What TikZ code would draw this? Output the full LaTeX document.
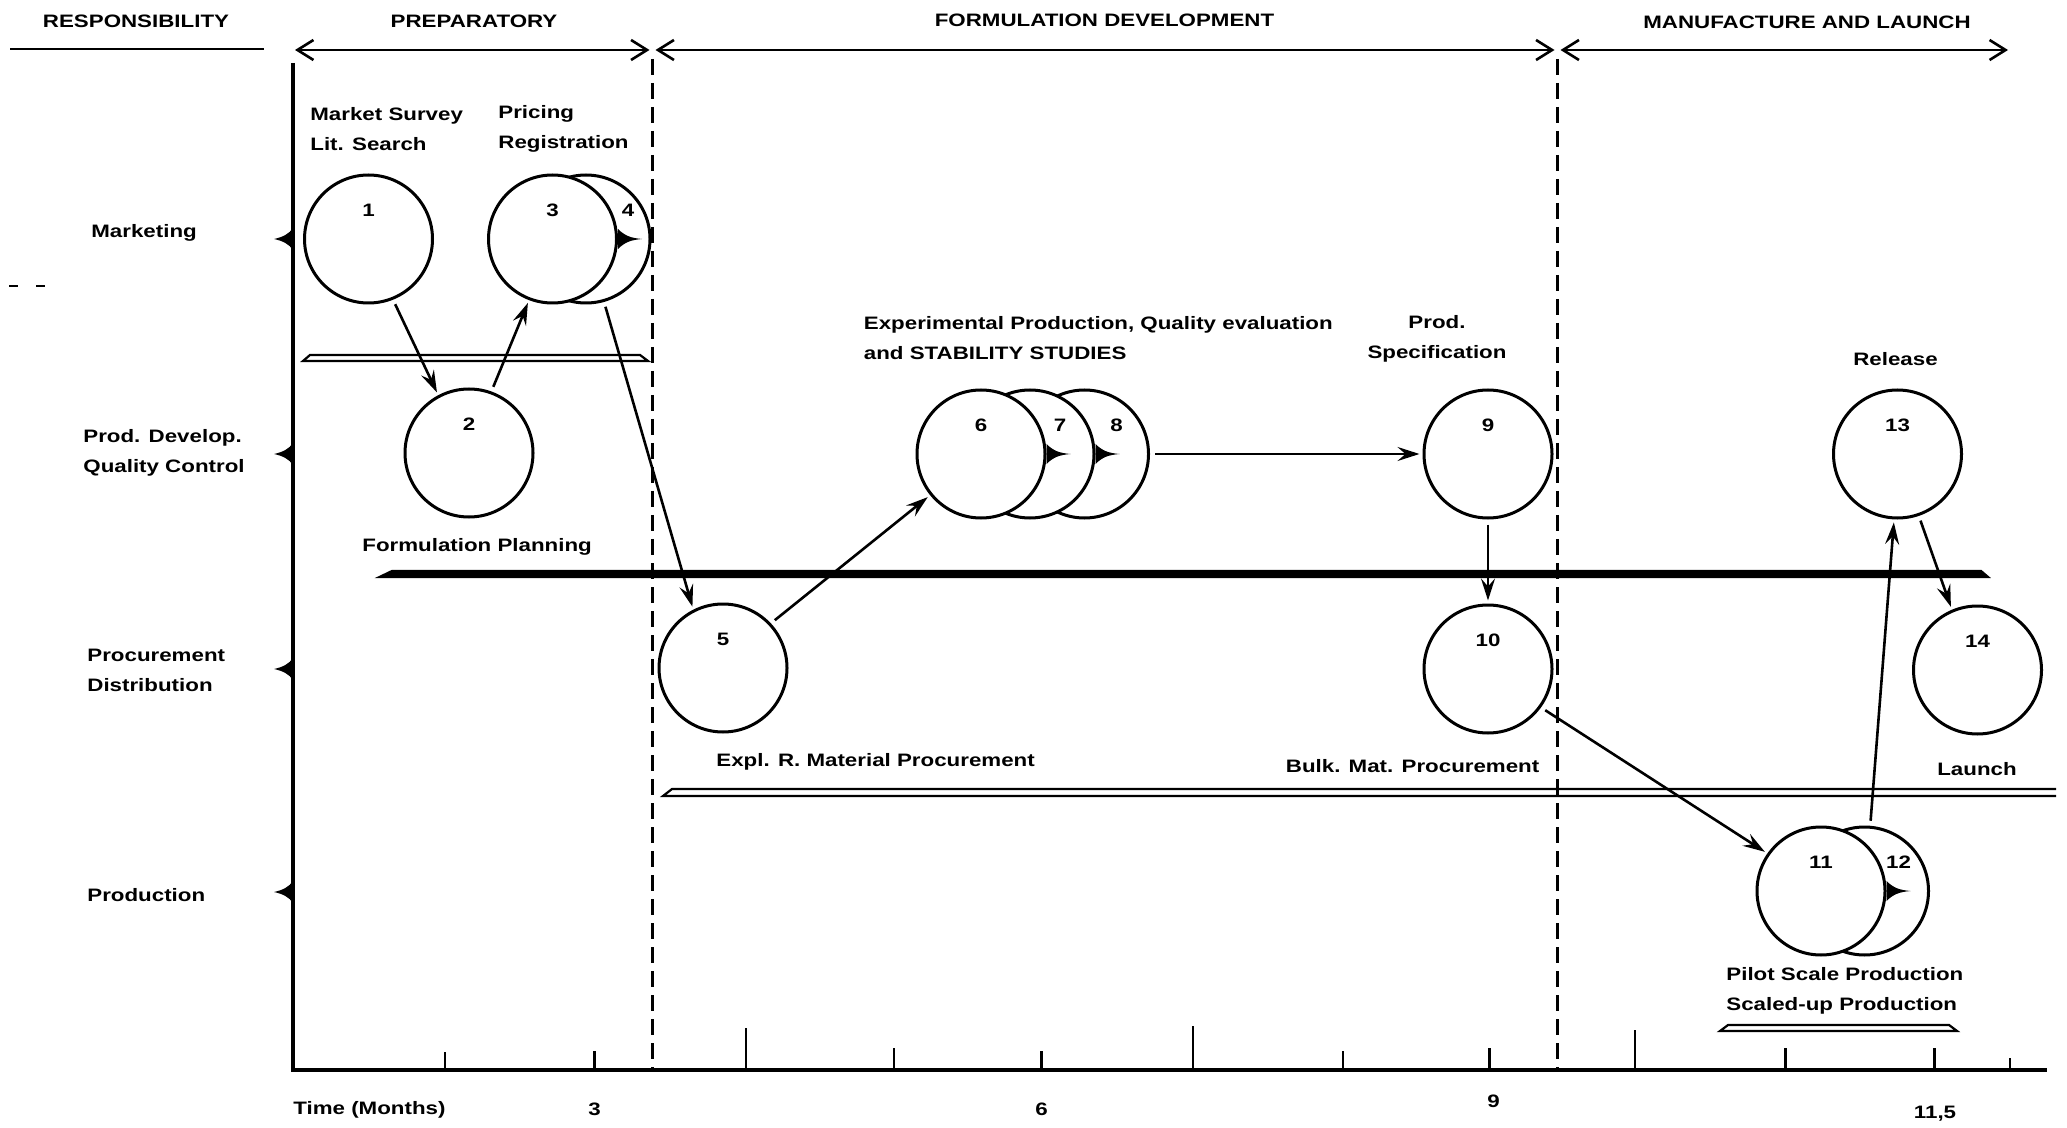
\documentclass[tikz,border=0pt]{standalone}
\usepackage{fontspec}
\setmainfont{Liberation Sans}[FakeStretch=1.24]
\usetikzlibrary{arrows.meta}

\tikzset{
  stage/.style={circle, draw, line width=1.5pt, fill=white, minimum size=64pt, inner sep=0pt,
    label={[anchor=center, yshift=-18.5pt]90:#1}},
  rear/.style 2 args={circle, draw, line width=1.5pt, fill=white, minimum size=64pt, inner sep=0pt,
    label={[anchor=center, xshift=#2, yshift=-18.5pt]90:#1}},
  flow/.style={-{Stealth[length=11pt,width=7pt,inset=4pt]}, line width=1.3pt, shorten <=2.5pt, shorten >=1.5pt},
  span/.style={{Straight Barb[length=8pt,width=10pt]}-{Straight Barb[length=8pt,width=10pt]}, line width=1.3pt, shorten <=1.5pt, shorten >=1.5pt},
  phaseline/.style={dash pattern=on 8pt off 4pt, line width=1.5pt},
  bar/.style={line width=1.1pt},
  tick/.style={line width=1.4pt},
  txt/.style={inner sep=0pt, align=left},
  thorn/.pic={\fill (0,-10) .. controls (7,-3) and (13,-1) .. (24,0) .. controls (13,1) and (7,3) .. (0,10) -- cycle;},
  tab/.pic={\fill (0,-11) .. controls (-4,-5) and (-10,-2) .. (-19,0) .. controls (-10,2) and (-4,5) .. (0,11) -- cycle;}
}

\begin{document}
\begin{tikzpicture}[x=0.5pt,y=-0.5pt, font=\bfseries\fontsize{9pt}{15pt}\selectfont]
        \useasboundingbox (0,0) rectangle (2067,1128);

        % axes and phases
        \coordinate (T) at (293,63);
        \coordinate (O) at (293,1070);
        \coordinate (E) at (2047,1070);
        \coordinate (b0) at (292,50);
        \coordinate (b1) at (652.5,50);
        \coordinate (b2) at (1557.5,50);
        \coordinate (b3) at (2011,50);
        \draw [line width=2pt] (T) -- (O) -- (E);
        \foreach \x/\h in {445/18, 594.5/19, 746/42, 894/22, 1041.5/19, 1193/44, 1343/19, 1489.5/22, 1635/40, 1785.5/22, 1934.5/22, 2010/12}
            \draw [tick] (\x,1070) -- ++(0,-\h);
        \draw [line width=1.2pt] (10,49) -- (264,49);
        \draw [span] (b0) -- (b1);
        \draw [span] (b1) -- (b2);
        \draw [span] (b2) -- (b3);
        \draw [line width=0.6pt] (9,286) -- (18,286) (36,286) -- (45,286);

        % bars
        \draw [bar] (310,355) -- (640,355) -- (648,361) -- (303,361) -- cycle;
        \draw [bar, fill=black] (392,571) -- (1981,571) -- (1988,577) -- (379.5,577) -- cycle;
        \draw [bar] (2056,789) -- (672,789) -- (663,796) -- (2056,796);
        \draw [bar] (1728,1025) -- (1949,1025) -- (1957,1031) -- (1720,1031) -- cycle;

        % row markers
        \foreach \y in {239,454,669,892}
            \pic at (293,\y) {tab};

        % stages
        \node [rear={4}{21pt}] (c4) at (586,239) {};
        \node [stage=3] (c3) at (552.5,239) {};
        \node [stage=1] (c1) at (368.5,239) {};
        \node [stage=2] (c2) at (469,453) {};
        \node [stage=5] (c5) at (723,668) {};
        \node [rear={8}{16pt}] (c8) at (1084.5,454) {};
        \node [rear={7}{15pt}] (c7) at (1030,454) {};
        \node [stage=6] (c6) at (981,454) {};
        \node [stage=9] (c9) at (1488,454) {};
        \node [stage=10] (c10) at (1488,669) {};
        \node [rear={12}{17pt}] (c12) at (1864.5,891) {};
        \node [stage=11] (c11) at (1821,891) {};
        \node [stage=13] (c13) at (1897.5,454) {};
        \node [stage=14] (c14) at (1977.5,670) {};
        \pic at (c3.east) {thorn};
        \pic at (c6.east) {thorn};
        \pic at (c7.east) {thorn};
        \pic at (c11.east) {thorn};

        \draw [phaseline] (b1) ++(0,9) -- (b1 |- O);
        \draw [phaseline] (b2) ++(0,9) -- (b2 |- O);

        % connectors
        \draw [flow] (c1.-68) -- (c2.118);
        \draw [flow] (c2.70) -- (c3.-111);
        \draw [flow] (c4.-74) -- (c5.117);
        \draw [flow] (c5.43) -- (c6.219);
        \draw [flow] (c8.east) -- (c9.west);
        \draw [flow] (c9.south) -- (c10.north);
        \draw [flow] (c10.-36) -- (c11.145);
        \draw [flow] (c12.85) -- (c13.267);
        \draw [flow] (c13.-71) -- (c14.113);

        % texts
        \node [txt] (resp) at (136,21) {RESPONSIBILITY};
        \node [txt] (prep) at (474,21) {PREPARATORY};
        \node [txt] (form) at (1104.5,20) {FORMULATION DEVELOPMENT};
        \node [txt] (manu) at (1807,22) {MANUFACTURE AND LAUNCH};
        \node [txt, anchor=west] (mkt) at (91,233) {Marketing};
        \node [txt, anchor=west] (dev) at (83,453) {Prod. Develop.\\Quality Control};
        \node [txt, anchor=west] (proc) at (87,670) {Procurement\\Distribution};
        \node [txt, anchor=west] (prd) at (87,895) {Production};
        \node [txt, anchor=west] (survey) at (310,129) {Market Survey\\Lit. Search};
        \node [txt, anchor=west] (pricing) at (498,129) {Pricing\\Registration};
        \node [txt, anchor=west] (expt) at (863.5,338) {Experimental Production, Quality evaluation\\and STABILITY STUDIES};
        \node [txt, align=center] (spec) at (1437,339) {Prod.\\Specification};
        \node [txt] (release) at (1895.5,359) {Release};
        \node [txt, anchor=west] (plan) at (362,546.5) {Formulation Planning};
        \node [txt, anchor=west] (rawmat) at (716,762) {Expl. R. Material Procurement};
        \node [txt, anchor=west] (bulk) at (1285.5,766.5) {Bulk. Mat. Procurement};
        \node [txt] (launch) at (1977,769) {Launch};
        \node [txt, anchor=west] (pilot) at (1726,990.5) {Pilot Scale Production\\Scaled-up Production};
        \node [txt, anchor=west] (time) at (293,1110) {Time (Months)};
        \node [txt] (m3) at (594.5,1109) {3};
        \node [txt] (m6) at (1041.5,1109) {6};
        \node [txt] (m9) at (1493.5,1101) {9};
        \node [txt] (m11) at (1935,1114) {11,5};
\end{tikzpicture}
\end{document}
